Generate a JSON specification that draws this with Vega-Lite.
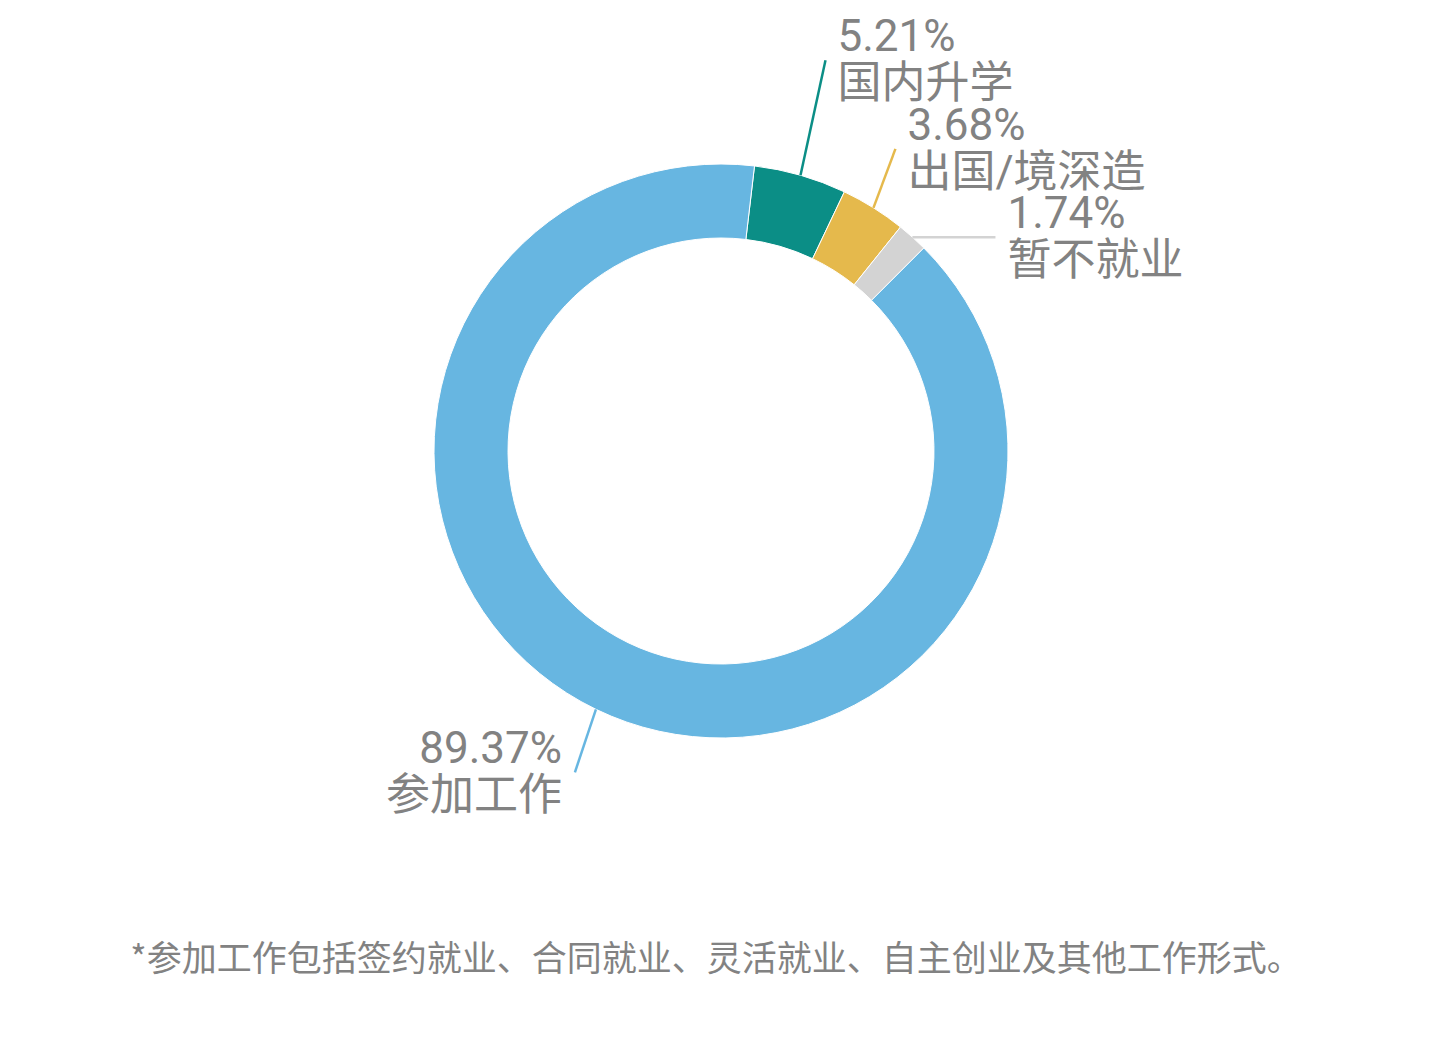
{
  "$schema": "https://vega.github.io/schema/vega-lite/v6.json",
  "width": 1438,
  "height": 902,
  "padding": {"left": 0, "right": 0, "top": 0, "bottom": 70},
  "background": "#ffffff",
  "config": {"view": {"stroke": null}},
  "title": {
    "text": "*参加工作包括签约就业、合同就业、灵活就业、自主创业及其他工作形式。",
    "orient": "bottom",
    "anchor": "middle",
    "baseline": "top",
    "offset": 41,
    "dx": -3,
    "font": "Noto Sans CJK SC",
    "fontSize": 35,
    "fontWeight": "normal",
    "color": "#828282"
  },
  "data": {
    "values": [
      {"category": "国内升学", "value": 5.21, "order": 1},
      {"category": "出国/境深造", "value": 3.68, "order": 2},
      {"category": "暂不就业", "value": 1.74, "order": 3},
      {"category": "参加工作", "value": 89.37, "order": 4}
    ]
  },
  "transform": [
    {"stack": "value", "groupby": [], "sort": [{"field": "order", "order": "ascending"}], "as": ["v0", "v1"]},
    {"calculate": "0.117 + PI * (datum.v0 + datum.v1) / 100", "as": "mid"},
    {"calculate": "287 * sin(datum.mid)", "as": "ox"},
    {"calculate": "-287 * cos(datum.mid)", "as": "oy"},
    {"calculate": "datum.order == 1 ? 25 : datum.order == 2 ? 22 : datum.order == 3 ? 83 : -21", "as": "ddx"},
    {"calculate": "datum.order == 1 ? -115 : datum.order == 2 ? -59 : datum.order == 3 ? 0 : 63", "as": "ddy"},
    {"calculate": "datum.ox + datum.ddx", "as": "ex"},
    {"calculate": "datum.oy + datum.ddy", "as": "ey"},
    {"calculate": "format(datum.value, '.2f') + '%\\n' + datum.category", "as": "label"}
  ],
  "layer": [
    {
      "mark": {"type": "arc", "outerRadius": 287, "innerRadius": 213, "stroke": "#ffffff", "strokeWidth": 1},
      "encoding": {
        "x": {"datum": 0, "type": "quantitative", "scale": {"domain": [-721, 717], "nice": false, "zero": false}, "axis": null},
        "y": {"datum": 0, "type": "quantitative", "scale": {"domain": [-451, 451], "nice": false, "zero": false, "reverse": true}, "axis": null},
        "theta": {"field": "value", "type": "quantitative", "stack": true, "scale": {"range": [0.117, 6.4002]}},
        "order": {"field": "order", "type": "quantitative"},
        "color": {
          "field": "category", "type": "nominal",
          "scale": {"domain": ["国内升学", "出国/境深造", "暂不就业", "参加工作"], "range": ["#0b8e86", "#e5b94c", "#d3d3d3", "#67b6e1"]},
          "legend": null
        }
      }
    },
    {
      "mark": {"type": "rule", "strokeWidth": 2.5},
      "encoding": {
        "x": {"field": "ox", "type": "quantitative", "scale": {"domain": [-721, 717], "nice": false, "zero": false}, "axis": null},
        "y": {"field": "oy", "type": "quantitative", "scale": {"domain": [-451, 451], "nice": false, "zero": false, "reverse": true}, "axis": null},
        "x2": {"field": "ex"},
        "y2": {"field": "ey"},
        "color": {"field": "category", "type": "nominal", "legend": null}
      }
    },
    {
      "transform": [{"filter": "datum.order < 4"}],
      "mark": {"type": "text", "align": "left", "baseline": "top", "dx": 12, "dy": -44, "lineBreak": "\n", "lineHeight": 47, "font": "Roboto, Noto Sans CJK SC", "fontSize": 44, "color": "#828282"},
      "encoding": {
        "x": {"field": "ex", "type": "quantitative"},
        "y": {"field": "ey", "type": "quantitative"},
        "text": {"field": "label"}
      }
    },
    {
      "transform": [{"filter": "datum.order == 4"}],
      "mark": {"type": "text", "align": "right", "baseline": "top", "dx": -13, "dy": -44, "lineBreak": "\n", "lineHeight": 47, "font": "Roboto, Noto Sans CJK SC", "fontSize": 44, "color": "#828282"},
      "encoding": {
        "x": {"field": "ex", "type": "quantitative"},
        "y": {"field": "ey", "type": "quantitative"},
        "text": {"field": "label"}
      }
    }
  ]
}
